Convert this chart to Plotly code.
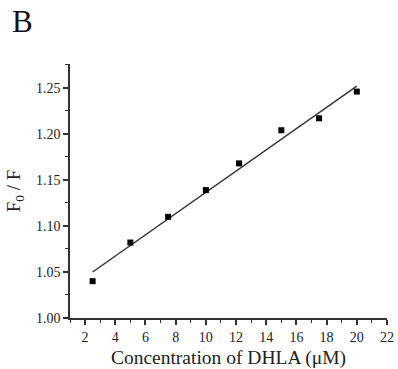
import plotly.graph_objects as go

conc = [2.5, 5, 7.5, 10, 12.2, 15, 17.5, 20]
ratio = [1.040, 1.082, 1.110, 1.139, 1.168, 1.204, 1.217, 1.246]
fit_x = [2.5, 20]
fit_y = [1.050, 1.252]
x_ticks = [2, 4, 6, 8, 10, 12, 14, 16, 18, 20, 22]
y_ticks = [1.00, 1.05, 1.10, 1.15, 1.20, 1.25]

font = "Liberation Serif, Times New Roman, serif"
fig = go.Figure()
fig.add_trace(go.Scatter(x=fit_x, y=fit_y, mode="lines",
                         line=dict(color="#333333", width=1.5), showlegend=False))
fig.add_trace(go.Scatter(x=conc, y=ratio, mode="markers",
                         marker=dict(symbol="square", size=6, color="black"), showlegend=False))

axis_common = dict(showline=True, linecolor="#333333", linewidth=1.5, ticks="outside",
                   ticklen=5, tickwidth=1.5, tickcolor="#333333", showgrid=False, zeroline=False,
                   mirror=False, automargin=False, tickfont=dict(family=font, size=14, color="#222222"))
fig.update_xaxes(range=[1, 22], tickvals=x_ticks,
                 minor=dict(dtick=1, ticks="outside", ticklen=3, tickwidth=1.2, tickcolor="#333333"),
                 title=dict(text="Concentration of DHLA (μM)", font=dict(family=font, size=19.5, color="#222222"), standoff=9),
                 **axis_common)
fig.update_yaxes(range=[1.0, 1.276], tickvals=y_ticks, tickformat=".2f",
                 minor=dict(dtick=0.025, tick0=1.0, ticks="outside", ticklen=3, tickwidth=1.2, tickcolor="#333333"),
                 title=dict(text="F<sub>0</sub> / F", font=dict(family=font, size=19, color="#222222"), standoff=10),
                 **axis_common)
fig.add_annotation(text="B", xref="paper", yref="paper", x=-0.19, y=1.245, xanchor="left", yanchor="top",
                   showarrow=False, font=dict(family=font, size=31, color="#111111"))
fig.update_layout(width=398, height=369, margin=dict(l=70, r=11, t=64, b=51),
                  plot_bgcolor="white", paper_bgcolor="white")
fig.write_html("out.html")
